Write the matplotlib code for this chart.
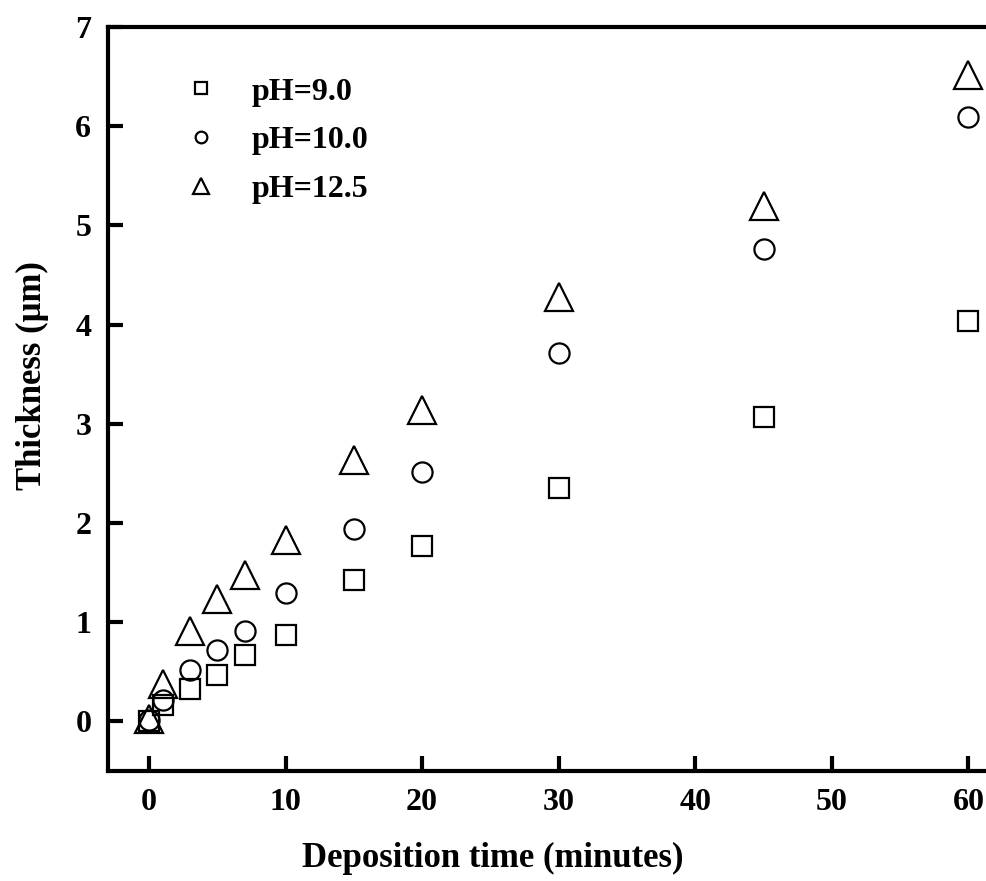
import matplotlib
matplotlib.use("Agg")
import matplotlib.pyplot as plt

# deposition time (minutes)
time_min = [0, 1, 3, 5, 7, 10, 15, 20, 30, 45, 60]

# film thickness (um) for each bath pH
thick_ph90 = [0.00, 0.16, 0.33, 0.47, 0.67, 0.87, 1.42, 1.77, 2.35, 3.07, 4.04]
thick_ph100 = [0.01, 0.22, 0.52, 0.72, 0.91, 1.29, 1.94, 2.51, 3.71, 4.76, 6.09]
thick_ph125 = [0.02, 0.38, 0.91, 1.23, 1.48, 1.83, 2.63, 3.14, 4.28, 5.20, 6.52]

labels = ["pH=9.0", "pH=10.0", "pH=12.5"]

plt.rcParams["font.family"] = ["Liberation Serif", "DejaVu Serif"]
plt.rcParams["font.weight"] = "bold"

fig = plt.figure(figsize=(9.86, 8.81), dpi=100)
# axes runs past the right edge of the figure, like the cropped original
ax = fig.add_axes([0.1095, 0.1249, 0.942, 0.8445])

ax.plot(time_min, thick_ph90, ls="none", marker="s", ms=14, mfc="none",
        mec="black", mew=1.6, label=labels[0])
ax.plot(time_min, thick_ph100, ls="none", marker="o", ms=14.5, mfc="none",
        mec="black", mew=1.6, label=labels[1])
ax.plot(time_min, thick_ph125, ls="none", marker="^", ms=19.5, mfc="none",
        mec="black", mew=1.6, label=labels[2])

ax.set_xlim(-3, 65)
ax.set_ylim(-0.5, 7)
ax.set_xticks(range(0, 61, 10))
ax.set_yticks(range(0, 8))

for s in ax.spines.values():
    s.set_linewidth(3)
ax.tick_params(direction="in", length=11, width=3, labelsize=23, pad=12)
ax.tick_params(right=False, top=False)

ax.set_xlabel("Deposition time (minutes)", fontsize=25, fontweight="bold")
ax.set_ylabel("Thickness (μm)", fontsize=25, fontweight="bold")
ax.xaxis.set_label_coords(0.414, -0.095)
ax.yaxis.set_label_coords(-0.064, 0.531)

ax.legend(loc="upper left", bbox_to_anchor=(0.052, 0.971), frameon=False,
          fontsize=23, markerscale=0.58, handlelength=1.0, handletextpad=1.1,
          labelspacing=0.6)

fig.savefig("out.png", dpi=100)
